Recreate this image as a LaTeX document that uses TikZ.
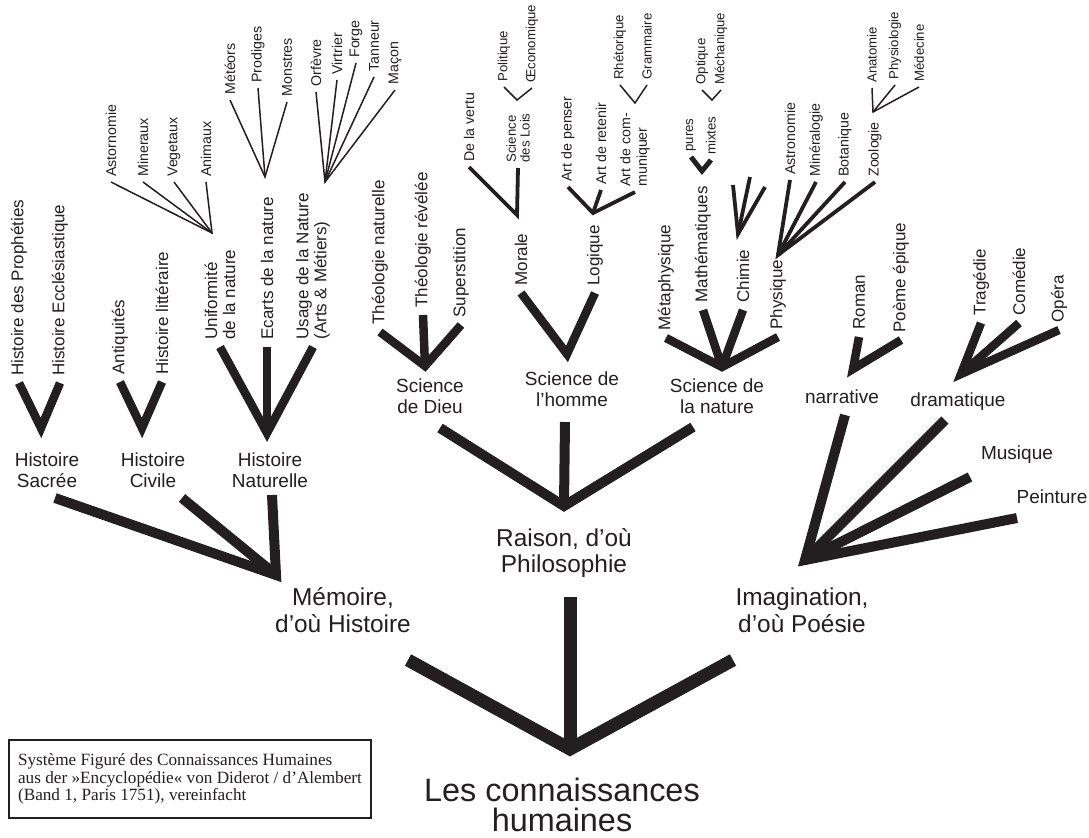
\documentclass[tikz,border=0pt]{standalone}
\usepackage{fontspec}
\setmainfont{Liberation Sans}
\newfontfamily\legendfont{Liberation Serif}
\usetikzlibrary{calc}
\definecolor{ink}{RGB}{35,31,32}

\begin{document}
\begin{tikzpicture}[x=0.5pt, y=0.5pt, color=ink, line join=miter,
  rootlab/.style={font=\fontsize{16.2}{15.3}\selectfont, align=center},
  mainlab/.style={font=\fontsize{12.2}{13.3}\selectfont, align=center},
  sublab/.style={font=\fontsize{9.5}{10.8}\selectfont, align=center},
  leaflab/.style={font=\fontsize{8.5}{9}\selectfont, rotate=90, anchor=west, inner sep=3.5pt, align=left},
  twiglab/.style={font=\fontsize{7.1}{8.2}\selectfont, rotate=90, anchor=west, inner sep=2.5pt, align=left},
  tinylab/.style={font=\fontsize{6.6}{6.9}\selectfont, rotate=90, anchor=west, inner sep=2.5pt, align=left},
  trunk/.style={line width=6.5pt},
  bough/.style={line width=5pt},
  limb/.style={line width=4.25pt},
  sprig/.style={line width=2.5pt},
  shoot/.style={line width=1.9pt},
  hair/.style={line width=0.75pt},
  notebox/.style={draw, line width=1.25pt, align=left, minimum width=181pt, minimum height=39pt,
    font=\legendfont\fontsize{8.6}{8.9}\selectfont}]
\useasboundingbox (0,0) rectangle (1089,-837);

% trunk
\node[rootlab] (know) at (562,-805) {Les connaissances\\humaines};
\node[mainlab] (mem) at (343,-610) {Mémoire,\\d’où Histoire};
\node[mainlab] (phi) at (564,-553) {Raison, d’où\\Philosophie};
\node[mainlab] (ima) at (802,-610) {Imagination,\\d’où Poésie};
\coordinate (know-j) at (570,-749);
\coordinate (mem-in) at (408,-660); \coordinate (phi-in) at (570,-597); \coordinate (ima-in) at (733,-660);
\draw[trunk] (mem-in) -- (know-j) -- (ima-in); \draw[trunk] (know-j) -- (phi-in);

% Memoire
\node[sublab] (hsac) at (47,-470) {Histoire\\Sacrée};
\node[sublab] (hciv) at (153,-470) {Histoire\\Civile};
\node[sublab] (hnat) at (270,-470) {Histoire\\Naturelle};
\coordinate (mem-j) at (276,-575);
\coordinate (hsac-in) at (55,-498); \coordinate (hciv-in) at (182,-498); \coordinate (hnat-in) at (272,-495);
\draw[bough] (hsac-in) -- (mem-j) -- (hnat-in); \draw[bough] (mem-j) -- (hciv-in);

\coordinate (hsac-j) at (41,-428);
\node[leaflab] (proph) at (19,-383) {Histoire des Prophéties};
\node[leaflab] (eccl) at (60,-383) {Histoire Ecclésiastique};
\draw[limb] (proph.west) -- (hsac-j) -- (eccl.west);

\coordinate (hciv-j) at (142,-428);
\node[leaflab] (antiq) at (120,-382) {Antiquités};
\node[leaflab] (hlitt) at (162,-382) {Histoire littéraire};
\draw[limb] (antiq.west) -- (hciv-j) -- (hlitt.west);

\coordinate (hnat-j) at (267,-433);
\node[leaflab] (unif) at (220,-347) {Uniformité\\de la nature};
\node[leaflab] (ecarts) at (267,-347) {Ecarts de la nature};
\node[leaflab] (usage) at (313,-347) {Usage de la Nature\\(Arts \& Métiers)};
\draw[limb] (unif.west) -- (hnat-j) -- (usage.west); \draw[limb] (hnat-j) -- (ecarts.west);

\coordinate (unif-j) at (212,-233);
\node[twiglab] (astor) at (111,-182) {Astornomie};
\node[twiglab] (miner) at (143,-182) {Mineraux};
\node[twiglab] (veget) at (174,-182) {Vegetaux};
\node[twiglab] (anim) at (206,-182) {Animaux};
\draw[hair] (astor.west) -- (unif-j) -- (anim.west); \draw[hair] (unif-j) -- (miner.west); \draw[hair] (unif-j) -- (veget.west);

\coordinate (ecarts-j) at (265,-177);
\node[twiglab] (meteor) at (230,-100) {Météors};
\node[twiglab] (prodig) at (258,-88) {Prodiges};
\node[twiglab] (monstr) at (287,-102) {Monstres};
\draw[hair] (meteor.west) -- (ecarts-j) -- (monstr.west); \draw[hair] (ecarts-j) -- (prodig.west);

\coordinate (usage-j) at (325,-182);
\node[twiglab] (orfev) at (316,-92) {Orfèvre};
\node[twiglab] (virtr) at (337,-80) {Virtrier};
\node[twiglab] (forge) at (356,-63) {Forge};
\node[twiglab] (tann) at (374,-77) {Tanneur};
\node[twiglab] (macon) at (395,-90) {Maçon};
\draw[hair] (orfev.west) -- (usage-j) -- (macon.west);
\draw[hair] (usage-j) -- (virtr.west); \draw[hair] (usage-j) -- (forge.west); \draw[hair] (usage-j) -- (tann.west);

% Philosophie
\coordinate (phi-j) at (564,-506);
\coordinate (sdieu-in) at (440,-428); \coordinate (shom-in) at (565,-422); \coordinate (snat-in) at (693,-427);
\draw[bough] (sdieu-in) -- (phi-j) -- (snat-in); \draw[bough] (phi-j) -- (shom-in);

\node[sublab] (sdieu) at (430,-396) {Science\\de Dieu};
\coordinate (sdieu-j) at (425,-366);
\node[leaflab] (theonat) at (380,-332) {Théologie naturelle};
\node[leaflab] (theorev) at (423,-315) {Théologie révélée};
\node[leaflab] (superst) at (461,-325) {Superstition};
\draw[limb] (theonat.west) -- (sdieu-j) -- (superst.west); \draw[limb] (sdieu-j) -- (theorev.west);

\node[sublab] (shom) at (572,-389) {Science de\\l’homme};
\coordinate (shom-j) at (567,-354);
\node[leaflab] (morale) at (521,-293) {Morale};
\node[leaflab] (logique) at (595,-293) {Logique};
\draw[limb] (morale.west) -- (shom-j) -- (logique.west);

\coordinate (morale-j) at (517,-215);
\node[twiglab] (vertu) at (469,-167) {De la vertu};
\node[tinylab] (lois) at (518,-168) {Science\\des Lois};
\draw[shoot] (vertu.west) -- (morale-j) -- (lois.west);
\coordinate (lois-j) at (517,-100);
\node[tinylab] (polit) at (504,-87) {Politique};
\node[tinylab] (oecon) at (532,-88) {Œconomique};
\draw[hair] (polit.west) -- (lois-j) -- (oecon.west);

\coordinate (logique-j) at (593,-213);
\node[twiglab] (penser) at (568,-187) {Art de penser};
\node[twiglab] (retenir) at (601,-190) {Art de retenir};
\node[twiglab] (commun) at (635,-192) {Art de com-\\muniquer};
\draw[shoot] (penser.west) -- (logique-j) -- (commun.west); \draw[shoot] (logique-j) -- (retenir.west);
\coordinate (commun-j) at (635,-103);
\node[tinylab] (rhetor) at (620,-85) {Rhétorique};
\node[tinylab] (gramm) at (647,-85) {Grammaire};
\draw[hair] (rhetor.west) -- (commun-j) -- (gramm.west);

\node[sublab] (snat) at (717,-396) {Science de\\la nature};
\coordinate (snat-j) at (722,-367);
\node[leaflab] (metaph) at (666,-338) {Métaphysique};
\node[leaflab] (mathem) at (703,-310) {Mathématiques};
\node[leaflab] (chimie) at (743,-310) {Chimie};
\node[leaflab] (physiq) at (778,-337) {Physique};
\draw[limb] (metaph.west) -- (snat-j) -- (physiq.west);
\draw[limb] (snat-j) -- (mathem.west); \draw[limb] (snat-j) -- (chimie.west);

\coordinate (mathem-j) at (702,-171);
\node[tinylab] (pures) at (691,-157) {pures};
\node[tinylab] (mixtes) at (711,-160) {mixtes};
\draw[sprig] (pures.west) -- (mathem-j) -- (mixtes.west);
\coordinate (mixtes-j) at (712,-100);
\node[tinylab] (optiq) at (702,-90) {Optique};
\node[tinylab] (mechan) at (721,-90) {Méchanique};
\draw[hair] (optiq.west) -- (mixtes-j) -- (mechan.west);

\coordinate (chimie-j) at (738,-234);
\coordinate (chim-a) at (733,-185); \coordinate (chim-b) at (750,-177); \coordinate (chim-c) at (765,-187);
\draw[shoot] (chim-a) -- (chimie-j) -- (chim-c); \draw[shoot] (chimie-j) -- (chim-b);

\coordinate (physiq-j) at (778,-255);
\node[twiglab] (astron) at (790,-180) {Astronomie};
\node[twiglab] (mineral) at (816,-182) {Minéralogie};
\node[twiglab] (botan) at (845,-182) {Botanique};
\node[twiglab] (zool) at (875,-182) {Zoologie};
\draw[shoot] (astron.west) -- (physiq-j) -- (zool.west);
\draw[shoot] (physiq-j) -- (mineral.west); \draw[shoot] (physiq-j) -- (botan.west);
\coordinate (zool-j) at (873,-112);
\node[tinylab] (anat) at (872,-88) {Anatomie};
\node[tinylab] (physio) at (895,-85) {Physiologie};
\node[tinylab] (medec) at (919,-87) {Médecine};
\draw[hair] (anat.west) -- (zool-j) -- (medec.west); \draw[hair] (zool-j) -- (physio.west);

% Imagination
\node[sublab] (narr) at (842,-397) {narrative};
\node[sublab] (dram) at (958,-402) {dramatique};
\node[sublab] (mus) at (1017,-455) {Musique};
\node[sublab] (pein) at (1052,-497) {Peinture};
\coordinate (ima-j) at (805,-560);
\coordinate (narr-in) at (845,-415); \coordinate (dram-in) at (945,-420);
\coordinate (mus-in) at (970,-477); \coordinate (pein-in) at (1017,-518);
\draw[bough] (narr-in) -- (ima-j) -- (pein-in); \draw[bough] (ima-j) -- (dram-in); \draw[bough] (ima-j) -- (mus-in);

\coordinate (narr-j) at (853,-369);
\node[leaflab] (roman) at (859,-337) {Roman};
\node[leaflab] (poeme) at (901,-340) {Poème épique};
\draw[limb] (roman.west) -- (narr-j) -- (poeme.west);

\coordinate (dram-j) at (961,-374);
\node[leaflab] (trag) at (981,-323) {Tragédie};
\node[leaflab] (comed) at (1019,-323) {Comédie};
\node[leaflab] (opera) at (1059,-330) {Opéra};
\draw[limb] (trag.west) -- (dram-j) -- (opera.west); \draw[limb] (dram-j) -- (comed.west);

\node[notebox] (note) at (190,-779) {Système Figuré des Connaissances Humaines\\aus der »Encyclopédie« von Diderot / d’Alembert\\(Band 1, Paris 1751), vereinfacht};
\end{tikzpicture}
\end{document}
